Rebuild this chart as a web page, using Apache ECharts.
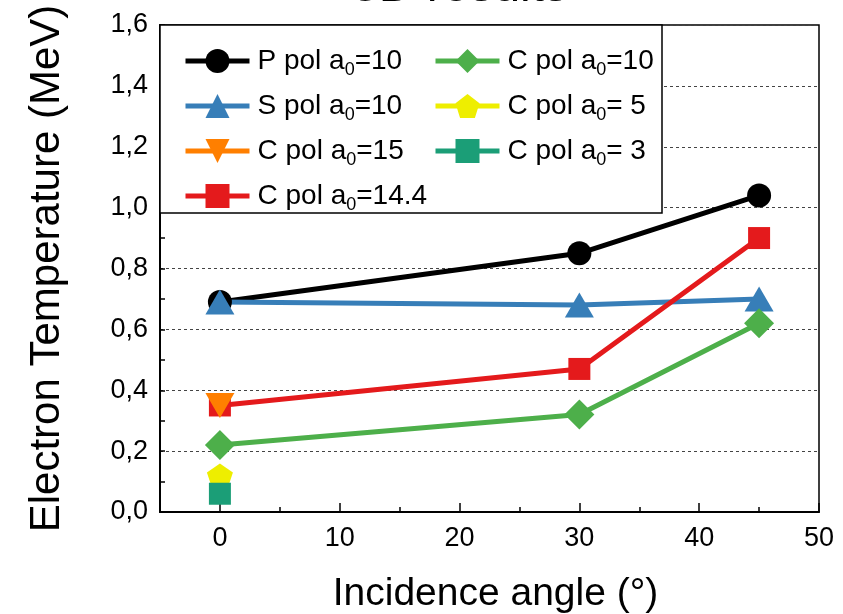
<!DOCTYPE html>
<html>
<head>
<meta charset="utf-8">
<script src="https://cdn.jsdelivr.net/npm/echarts@6/dist/echarts.min.js"></script>
<style>
  html, body { margin: 0; padding: 0; background: #fff; }
  #main { width: 843px; height: 614px; }
</style>
</head>
<body>
<div id="main"></div>
<script>
// incidence angles (deg)
var angles = [0, 30, 45];
// electron temperature (MeV)
var pPol10 = [0.69, 0.85, 1.04];
var sPol10 = [0.69, 0.68, 0.70];
var cPol15 = [0.35];
var cPol144 = [0.35, 0.47, 0.90];
var cPol10 = [0.22, 0.32, 0.62];
var cPol5 = [0.12];
var cPol3 = [0.06];

var xLabels = [0, 10, 20, 30, 40, 50];
var xMinor = [5, 15, 25, 35, 45];

var names = {
  p10: 'P pol a0=10',
  s10: 'S pol a0=10',
  c15: 'C pol a0=15',
  c144: 'C pol a0=14.4',
  c10: 'C pol a0=10',
  c5: 'C pol a0= 5',
  c3: 'C pol a0= 3'
};

var pentagon = 'path://M50,0 L97.6,34.5 L79.4,90.5 L20.6,90.5 L2.4,34.5 Z';
var font = 'Liberation Sans, Arial, sans-serif';

function pts(ys){
  var out = [];
  for(var i=0;i<ys.length;i++){
    out.push([angles[i], ys[i]]);
  }
  return out;
}

function line(name, ys, color, symbol, size, rotate){
  return {
    name: name,
    type: 'line',
    data: pts(ys),
    symbol: symbol,
    symbolSize: size,
    symbolRotate: rotate || 0,
    itemStyle: { color: color, opacity: 1 },
    lineStyle: { color: color, width: 5 },
    emphasis: { disabled: true },
    animation: false
  };
}

var legendText = {
  fontFamily: font,
  fontSize: 28,
  color: '#000',
  padding: [0, 0, 0, 3],
  rich: {
    sub: { fontFamily: font, fontSize: 18, color: '#000', padding: [18, 0, 0, 0] }
  }
};

function fmt(name){
  return name.replace('a0', 'a{sub|0}');
}

var chart = echarts.init(document.getElementById('main'));

var opt = {
  backgroundColor: '#fff',
  title: {
    text: '3D results',
    left: 352,
    top: -36,
    padding: 0,
    textStyle: { fontFamily: font, fontSize: 48, fontWeight: 'normal', color: '#000' }
  },
  grid: {
    left: 160, right: 24, top: 25, bottom: 102,
    outerBoundsMode: 'none',
    show: true, borderColor: '#000', borderWidth: 1.5
  },
  graphic: [{
    type: 'rect',
    z: 3,
    shape: { x: 160, y: 25, width: 502, height: 188 },
    style: { fill: '#fff', stroke: '#000', lineWidth: 1.5 }
  }],
  legend: [{
    data: [names.p10, names.s10, names.c15, names.c144],
    orient: 'vertical',
    left: 183, top: 47, padding: 0,
    itemWidth: 64, itemHeight: 30, itemGap: 13,
    lineStyle: { width: 5 },
    formatter: fmt,
    textStyle: legendText,
    z: 5
  }, {
    data: [names.c10, names.c5, names.c3],
    orient: 'vertical',
    left: 433, top: 47, padding: 0,
    itemWidth: 64, itemHeight: 30, itemGap: 13,
    lineStyle: { width: 5 },
    formatter: fmt,
    textStyle: legendText,
    z: 5
  }],
  xAxis: [{
    type: 'value',
    min: -5, max: 50,
    name: 'Incidence angle (°)',
    nameLocation: 'middle',
    nameGap: 63,
    nameTextStyle: { fontFamily: font, fontSize: 39, color: '#000', padding: [0, 0, 0, 12] },
    axisLine: { show: true, onZero: false, lineStyle: { color: '#000', width: 2 } },
    axisTick: { show: true, inside: true, length: 9, customValues: xLabels, lineStyle: { color: '#000', width: 1.5 } },
    axisLabel: { customValues: xLabels, margin: 13, fontFamily: font, fontSize: 27, color: '#000' },
    splitLine: { show: false }
  }, {
    type: 'value',
    min: -5, max: 50,
    position: 'bottom',
    axisLine: { show: false, onZero: false },
    axisTick: { show: true, inside: true, length: 5, customValues: xMinor, lineStyle: { color: '#000', width: 1.5 } },
    axisLabel: { show: false },
    splitLine: { show: false }
  }],
  yAxis: {
    type: 'value',
    min: 0, max: 1.6, interval: 0.2,
    name: 'Electron Temperature (MeV)',
    nameLocation: 'middle',
    nameGap: 92,
    nameTextStyle: { fontFamily: font, fontSize: 42, color: '#000' },
    axisLine: { show: true, onZero: false, lineStyle: { color: '#000', width: 2 } },
    axisTick: { show: true, inside: true, length: 5, lineStyle: { color: '#000', width: 1.5 } },
    minorTick: { show: true, splitNumber: 2, length: 5, lineStyle: { color: '#000', width: 1.5 } },
    axisLabel: {
      margin: 12, fontFamily: font, fontSize: 27, color: '#000',
      formatter: function(v){ return v.toFixed(1).replace('.', ','); }
    },
    splitLine: { show: true, lineStyle: { color: '#444', width: 1, type: [3, 3] } }
  },
  series: [
    line(names.p10, pPol10, '#000000', 'circle', 24),
    line(names.s10, sPol10, '#377eb8', 'triangle', [29, 25]),
    line(names.c144, cPol144, '#e41a1c', 'rect', 22),
    line(names.c15, cPol15, '#ff7f00', 'triangle', [29, 25], 180),
    line(names.c10, cPol10, '#4daf4a', 'diamond', [30, 30]),
    line(names.c5, cPol5, '#eeee00', pentagon, [26, 24]),
    line(names.c3, cPol3, '#1b9e77', 'rect', 22)
  ]
};

chart.setOption(opt);
</script>
</body>
</html>
